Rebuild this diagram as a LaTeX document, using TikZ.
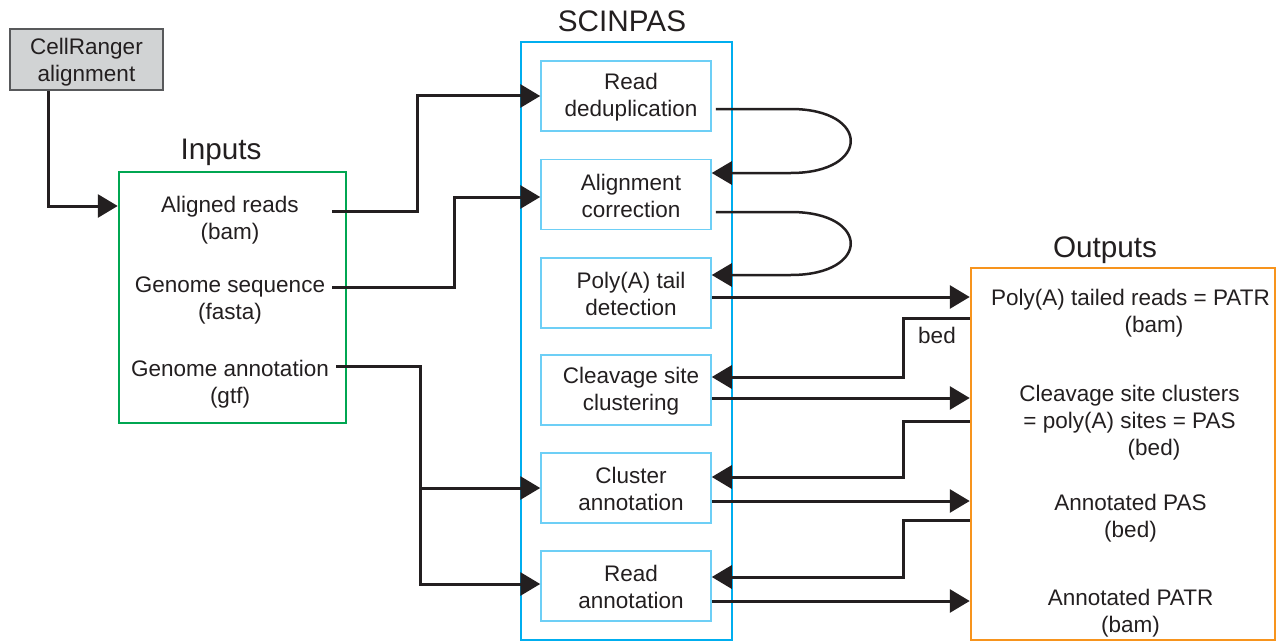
\documentclass[tikz,border=0pt]{standalone}
\usepackage{fontspec}
\setmainfont{Liberation Sans}
\usetikzlibrary{arrows.meta}
\definecolor{ink}{HTML}{231F20}
\definecolor{scicyan}{HTML}{00AEEF}
\definecolor{stepcyan}{HTML}{6DCFF6}
\definecolor{ingreen}{HTML}{00A651}
\definecolor{outorange}{HTML}{F7941D}
\definecolor{crgray}{HTML}{D1D3D4}
\definecolor{crborder}{HTML}{58595B}
\begin{document}
\begin{tikzpicture}[x=1pt,y=-1pt,
  txt/.style={font=\fontsize{22.5}{27}\selectfont, text=ink, align=center, inner sep=0pt},
  heading/.style={font=\fontsize{29.7}{34}\selectfont, text=ink, inner sep=0pt, anchor=base},
  stepbox/.style={draw=stepcyan, line width=1.5pt, minimum width=170pt, minimum height=70pt, inner sep=0pt},
  steptext/.style={txt, yshift=-1pt, xshift=5pt},
  panel/.style={draw=#1, line width=2.5pt, inner sep=0pt},
  flow/.style={draw=ink, line width=3pt, -{Triangle[length=20pt,width=23pt]}},
  loopback/.style={draw=ink, line width=2.5pt, -{Triangle[length=20pt,width=23pt]}}]
\useasboundingbox (0,0) rectangle (1278,642);

% frames
\node[panel=crborder, fill=crgray, minimum width=153pt, minimum height=61pt] (cr) at (86.5,59.5) {};
\node[txt] (crtext) at (86.5,62.5) {CellRanger\\alignment};
\node[panel=ingreen, minimum width=227pt, minimum height=251pt] (inputs) at (232.5,297.5) {};
\node[panel=scicyan, minimum width=211pt, minimum height=598pt] (scinpas) at (626.5,341) {};
\node[panel=outorange, minimum width=304pt, minimum height=372pt] (outputs) at (1123,454) {};

% headings
\node[heading] (inputstitle) at (221,159) {Inputs};
\node[heading] (scinpastitle) at (622,32) {SCINPAS};
\node[heading] (outputstitle) at (1105,257) {Outputs};

% input files
\node[txt] (aligned) at (230,220.5) {Aligned reads\\(bam)};
\node[txt] (genseq) at (230,300.5) {Genome sequence\\(fasta)};
\node[txt] (genann) at (230,384.5) {Genome annotation\\(gtf)};
\coordinate (alignedout) at (332,211);
\coordinate (genseqout) at (332,287);
\coordinate (genannout) at (336,366);

% pipeline steps
\node[stepbox] (dedup) at (626,96) {};
\node[stepbox] (aligncorr) at (626,194.5) {};
\node[stepbox] (polya) at (626,293) {};
\node[stepbox] (clust) at (626,390) {};
\node[stepbox] (clusann) at (626,488) {};
\node[stepbox] (readann) at (626,586) {};
\node[steptext] (deduptext) at (dedup.center) {Read\\deduplication};
\node[steptext] (aligncorrtext) at (aligncorr.center) {Alignment\\correction};
\node[steptext] (polyatext) at (polya.center) {Poly(A) tail\\detection};
\node[steptext] (clusttext) at (clust.center) {Cleavage site\\clustering};
\node[steptext] (clusanntext) at (clusann.center) {Cluster\\annotation};
\node[steptext] (readanntext) at (readann.center) {Read\\annotation};

% output files
\node[txt] (patr) at (1130.5,313) {Poly(A) tailed reads = PATR\\\hspace*{47pt}(bam)};
\node[txt] (pas) at (1129.5,423) {Cleavage site clusters\\= poly(A) sites = PAS\\\hspace*{49pt}(bed)};
\node[txt] (annpas) at (1130.5,518) {Annotated PAS\\(bed)};
\node[txt] (annpatr) at (1130.5,613.5) {Annotated PATR\\(bam)};
\node[txt] (bedlabel) at (937,335) {bed};

% alignment into inputs
\draw[flow] ([xshift=-38.5pt]cr.south) |- ([yshift=91.5pt]inputs.west);

% inputs into the pipeline
\draw[flow] (alignedout) -| ([xshift=-123pt]dedup.west) -- (dedup.west);
\draw[flow] (genseqout) -| ([xshift=-86pt,yshift=-2.5pt]aligncorr.west) -- ([yshift=-2.5pt]aligncorr.west);
\draw[flow] (genannout) -| ([xshift=-120pt,yshift=2pt]readann.west) -- ([yshift=2pt]readann.west);
\draw[flow] ([xshift=-120pt]clusann.west) -- (clusann.west);

% step to step
\draw[loopback] ([xshift=4pt,yshift=-13pt]dedup.east) -- ++(75,0)
  .. controls +(80,0) and +(80,0) .. ([xshift=79pt,yshift=21.5pt]aligncorr.east)
  -- ([yshift=21.5pt]aligncorr.east);
\draw[loopback] ([xshift=4pt,yshift=-17.5pt]aligncorr.east) -- ++(75,0)
  .. controls +(80,0) and +(80,0) .. ([xshift=79pt,yshift=18pt]polya.east)
  -- ([yshift=18pt]polya.east);

% steps to outputs
\draw[flow] ([yshift=-4pt]polya.east) -- ([yshift=-4pt]polya.east -| outputs.west);
\draw[flow] ([yshift=-8pt]clust.east) -- ([yshift=-8pt]clust.east -| outputs.west);
\draw[flow] ([yshift=-13pt]clusann.east) -- ([yshift=-13pt]clusann.east -| outputs.west);
\draw[flow] ([yshift=-15pt]readann.east) -- ([yshift=-15pt]readann.east -| outputs.west);

% outputs fed back into steps
\draw[flow] ([yshift=136pt]outputs.west) -| ([xshift=192pt,yshift=13pt]clust.east) -- ([yshift=13pt]clust.east);
\draw[flow] ([yshift=33pt]outputs.west) -| ([xshift=192pt,yshift=11pt]clusann.east) -- ([yshift=11pt]clusann.east);
\draw[flow] ([yshift=-66pt]outputs.west) -| ([xshift=192pt,yshift=9pt]readann.east) -- ([yshift=9pt]readann.east);
\end{tikzpicture}
\end{document}
